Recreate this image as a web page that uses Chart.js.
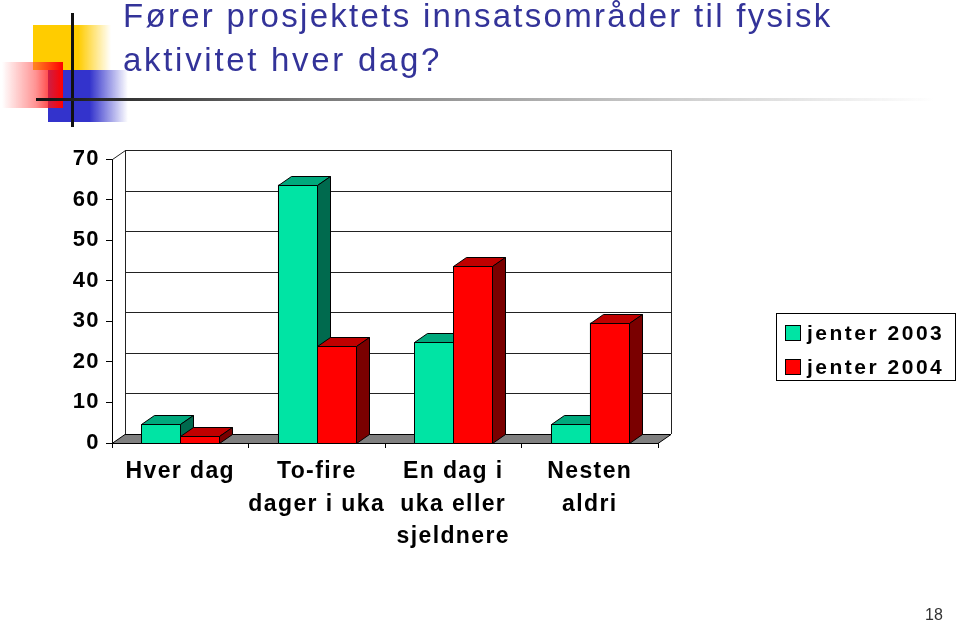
<!DOCTYPE html>
<html>
<head>
<meta charset="utf-8">
<script src="https://cdn.jsdelivr.net/npm/chart.js@4/dist/chart.umd.min.js"></script>
<style>
	html, body { margin: 0; padding: 0; background: #fff; }
	body { width: 960px; height: 621px; position: relative; overflow: hidden; font-family: "Liberation Sans", Arial, sans-serif; }
	#chart { position: absolute; left: 0; top: 0; }
	.deco { position: absolute; }
	#yellow { left: 33px; top: 25px; width: 78px; height: 45px; background: linear-gradient(to right, #ffcc00 58%, rgba(255,204,0,0)); }
	#blue { left: 48px; top: 70px; width: 80px; height: 52px; background: linear-gradient(to right, #3333cc 52%, rgba(51,51,204,0)); }
	#red { left: 2px; top: 62px; width: 61px; height: 46px; background: linear-gradient(to left, #ff0000 0%, rgba(255,60,60,0.55) 45%, rgba(255,255,255,0) 100%); }
	#vline { left: 71px; top: 13px; width: 3px; height: 114px; background: #111; }
	#hline { left: 36px; top: 98px; width: 900px; height: 3px; background: linear-gradient(to right, #111 0%, #777 30%, #ccc 70%, rgba(230,230,230,0) 100%); }
	#title { position: absolute; left: 123px; top: -6px; margin: 0; font-size: 33px; font-weight: normal; line-height: 44px; color: #333399; letter-spacing: 2.3px; }
	#title .l2 { letter-spacing: 2.7px; }
	#legend { position: absolute; left: 776px; top: 313px; width: 178px; height: 66px; border: 1px solid #000; font-size: 21px; font-weight: bold; letter-spacing: 2.5px; color: #000; }
	#legend div { position: absolute; left: 8px; height: 24px; line-height: 24px; white-space: nowrap; }
	#legend span { display: inline-block; width: 14px; height: 14px; border: 1px solid #000; margin-right: 6px; vertical-align: -1px; }
	#page { position: absolute; left: 925px; top: 606px; font-size: 16px; color: #333; }
</style>
</head>
<body>
<canvas id="chart" width="960" height="621"></canvas>
<div class="deco" id="yellow"></div>
<div class="deco" id="blue"></div>
<div class="deco" id="red"></div>
<div class="deco" id="vline"></div>
<div class="deco" id="hline"></div>
<h1 id="title">Fører prosjektets innsatsområder til fysisk<br><span class="l2">aktivitet hver dag?</span></h1>
<div id="legend"></div>
<div id="page">18</div>
<script>
const categories = [
	['Hver dag'],
	['To-fire', 'dager i uka'],
	['En dag i', 'uka eller', 'sjeldnere'],
	['Nesten', 'aldri'],
];
const seriesNames = ['jenter 2003', 'jenter 2004'];
const jenter2003 = [4.7, 63.7, 24.9, 4.7];
const jenter2004 = [1.8, 23.8, 43.7, 29.7];
const yTicks = [0, 10, 20, 30, 40, 50, 60, 70];

// front, top, side colours per series
const faceColors = [
	['#00e4a4', '#00a87c', '#006a4e'],
	['#ff0000', '#c00000', '#7a0000'],
];

const DX = 13, DY = 9;
const FONT = "'Liberation Sans', Arial, sans-serif";

function poly(ctx, pts, fill) {
	ctx.beginPath();
	ctx.moveTo(pts[0][0], pts[0][1]);
	for (let i = 1; i < pts.length; i++) ctx.lineTo(pts[i][0], pts[i][1]);
	ctx.closePath();
	ctx.fillStyle = fill;
	ctx.fill();
	ctx.stroke();
}

const box3d = {
	id: 'box3d',
	beforeDraw(chart) {
		chart.ctx.letterSpacing = '1.4px';
	},
	beforeDatasetsDraw(chart) {
		const { ctx, chartArea: a, scales: { y } } = chart;
		ctx.save();
		ctx.strokeStyle = '#222';
		ctx.lineWidth = 1;
		const top = Math.round(y.getPixelForValue(yTicks[yTicks.length - 1]));
		const bot = Math.round(y.getPixelForValue(0));

		// back wall grid lines
		yTicks.forEach(v => {
			const py = Math.round(y.getPixelForValue(v)) - DY + 0.5;
			ctx.beginPath();
			ctx.moveTo(a.left + DX, py);
			ctx.lineTo(a.right + DX, py);
			ctx.stroke();
		});
		// back wall edges and left wall top
		ctx.beginPath();
		ctx.moveTo(a.left + DX + 0.5, top - DY);
		ctx.lineTo(a.left + DX + 0.5, bot - DY);
		ctx.moveTo(a.right + DX + 0.5, top - DY);
		ctx.lineTo(a.right + DX + 0.5, bot - DY);
		ctx.moveTo(a.left + 0.5, top + 0.5);
		ctx.lineTo(a.left + DX + 0.5, top - DY + 0.5);
		ctx.stroke();

		// floor
		ctx.strokeStyle = '#000';
		poly(ctx, [
			[a.left, bot + 0.5], [a.right, bot + 0.5],
			[a.right + DX, bot - DY + 0.5], [a.left + DX, bot - DY + 0.5],
		], '#808080');
		ctx.restore();
	},
	afterDatasetsDraw(chart) {
		const ctx = chart.ctx;
		ctx.save();
		ctx.strokeStyle = '#000';
		ctx.lineWidth = 1;
		chart.data.datasets.forEach((ds, di) => {
			const [front, topC, side] = faceColors[di];
			chart.getDatasetMeta(di).data.forEach(bar => {
				const { x, y, base, width } = bar.getProps(['x', 'y', 'base', 'width'], true);
				const l = Math.round(x - width / 2) + 0.5;
				const r = Math.round(x + width / 2) + 0.5;
				const t = Math.round(y) + 0.5;
				const b = Math.round(base) + 0.5;
				poly(ctx, [[l, t], [r, t], [r, b], [l, b]], front);
				poly(ctx, [[l, t], [r, t], [r + DX, t - DY], [l + DX, t - DY]], topC);
				poly(ctx, [[r, t], [r + DX, t - DY], [r + DX, b - DY], [r, b]], side);
			});
		});
		ctx.restore();
	},
};

new Chart(document.getElementById('chart'), {
	type: 'bar',
	data: {
		labels: categories,
		datasets: [
			{ label: seriesNames[0], data: jenter2003, backgroundColor: faceColors[0][0], borderColor: '#000', borderWidth: 1 },
			{ label: seriesNames[1], data: jenter2004, backgroundColor: faceColors[1][0], borderColor: '#000', borderWidth: 1 },
		],
	},
	options: {
		responsive: false,
		animation: false,
		devicePixelRatio: 1,
		categoryPercentage: 0.57,
		barPercentage: 1,
		layout: { padding: { left: 0, right: 302, top: 159, bottom: 0 } },
		plugins: {
			legend: { display: false },
			tooltip: { enabled: false },
		},
		scales: {
			x: {
				grid: { offset: true, drawOnChartArea: false, drawTicks: true, tickLength: 5, color: '#000' },
				border: { display: true, color: '#000' },
				ticks: {
					color: '#000',
					font: { family: FONT, size: 23, weight: 'bold', lineHeight: 1.4 },
					maxRotation: 0, minRotation: 0, autoSkip: false, padding: 8,
				},
				afterFit(s) { s.height = 178; },
			},
			y: {
				min: 0,
				max: 70,
				ticks: {
					stepSize: 10, color: '#000', padding: 6,
					font: { family: FONT, size: 22, weight: 'bold' },
				},
				grid: { drawOnChartArea: false, drawTicks: true, tickLength: 6, color: '#000' },
				border: { display: true, color: '#000' },
				afterFit(s) { s.width = 112; },
			},
		},
	},
	plugins: [box3d],
});

// legend built from the series names and colours
const legend = document.getElementById('legend');
seriesNames.forEach((name, i) => {
	const row = document.createElement('div');
	row.style.top = (7 + i * 34) + 'px';
	row.innerHTML = '<span style="background:' + faceColors[i][0] + '"></span>' + name;
	legend.appendChild(row);
});
</script>
</body>
</html>
